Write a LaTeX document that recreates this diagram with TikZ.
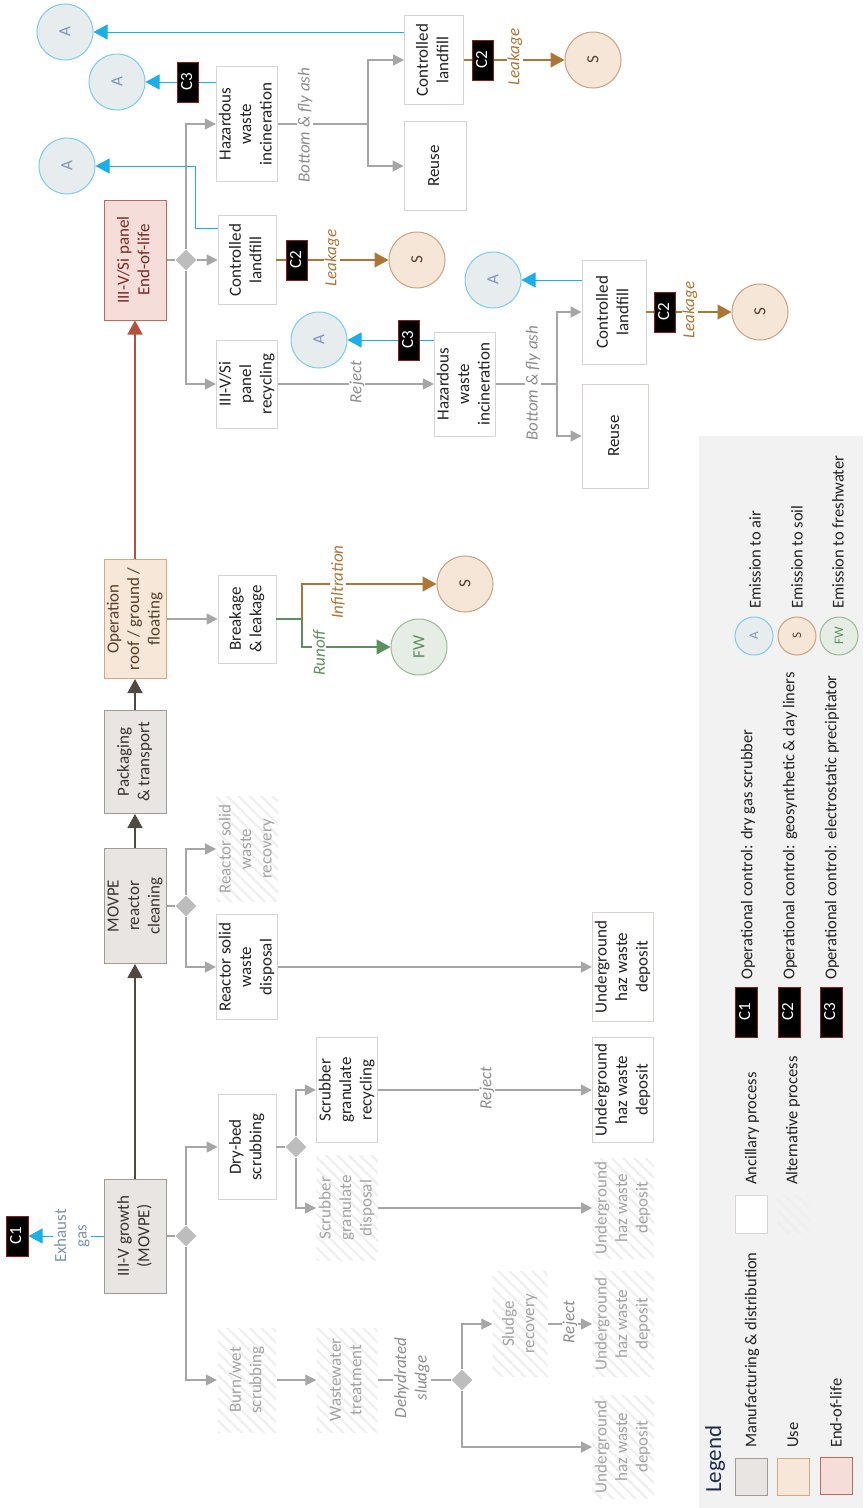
\documentclass[tikz,border=0pt]{standalone}
\usepackage{graphicx}
\usepackage{fontspec}
\setmainfont{Carlito}
\usetikzlibrary{arrows.meta,shapes.geometric,patterns.meta}

\definecolor{flowgray}{HTML}{A6A6A6}
\definecolor{mfgfill}{HTML}{E9E5E2}
\definecolor{mfgline}{HTML}{A29A94}
\definecolor{mfgtext}{HTML}{3A3330}
\definecolor{usefill}{HTML}{F6E7D9}
\definecolor{useline}{HTML}{D6A97C}
\definecolor{usetext}{HTML}{5A3E28}
\definecolor{eolfill}{HTML}{F5DDD9}
\definecolor{eolline}{HTML}{C06A5E}
\definecolor{eoltext}{HTML}{7A2A20}
\definecolor{ancline}{HTML}{DAD4D0}
\definecolor{boxtext}{HTML}{222222}
\definecolor{alttext}{HTML}{A3A3A3}
\definecolor{hatch}{HTML}{EFEFEF}
\definecolor{diafill}{HTML}{BDBDBD}
\definecolor{darkarrow}{HTML}{4F4843}
\definecolor{redarrow}{HTML}{B5503F}
\definecolor{aircol}{HTML}{1AAEEA}
\definecolor{airfill}{HTML}{E7EDEF}
\definecolor{airline}{HTML}{79CCEE}
\definecolor{airtext}{HTML}{7E95BF}
\definecolor{soilcol}{HTML}{AE7634}
\definecolor{soilfill}{HTML}{F5E6D8}
\definecolor{soilline}{HTML}{C9A27F}
\definecolor{soiltext}{HTML}{5A4030}
\definecolor{fwcol}{HTML}{5E8F5E}
\definecolor{fwfill}{HTML}{E5EDE4}
\definecolor{fwline}{HTML}{9BB89A}
\definecolor{ctrlred}{HTML}{8B1C1C}
\definecolor{legbg}{HTML}{F2F2F2}
\definecolor{labgray}{HTML}{8C8C8C}
\definecolor{exhcol}{HTML}{8095A8}
\definecolor{legnavy}{HTML}{1F2D4D}

\newcommand{\vtext}[1]{\rotatebox{90}{\begin{tabular}{@{}c@{}}#1\end{tabular}}}
\newcommand{\boxfont}{\fontsize{17}{20.5}\selectfont}
\newcommand{\legfont}{\fontsize{16.5}{19}\selectfont}

\tikzset{
  stage/.style={draw, line width=1pt, minimum width=62pt, inner sep=0pt, font=\boxfont},
  mfg/.style={stage, draw=mfgline, fill=mfgfill, text=mfgtext},
  usestage/.style={stage, draw=useline, fill=usefill, text=usetext},
  eolstage/.style={stage, draw=eolline, fill=eolfill, text=eoltext},
  anc/.style={draw=ancline, fill=white, line width=0.8pt, minimum width=58pt, inner sep=0pt, font=\boxfont, text=boxtext},
  altproc/.style={pattern={Lines[angle=-45,distance=8pt,line width=2.2pt]}, pattern color=hatch, minimum width=58pt, inner sep=0pt, font=\boxfont, text=alttext},
  gate/.style={diamond, fill=diafill, minimum width=21pt, minimum height=21pt, inner sep=0pt},
  emis/.style={circle, line width=1pt, minimum size=56pt, inner sep=0pt, font=\boxfont},
  air/.style={emis, draw=airline, fill=airfill, text=airtext},
  soil/.style={emis, draw=soilline, fill=soilfill, text=soiltext},
  fresh/.style={emis, draw=fwline, fill=fwfill, text=fwcol},
  ctrl/.style={draw=ctrlred, fill=black, text=white, line width=1pt, minimum width=21pt, minimum height=40pt, inner sep=0pt, font=\boxfont},
  lab/.style={fill=white, inner sep=1pt, rotate=90, font=\boxfont\itshape, align=center},
  link/.style={draw=flowgray, line width=1.2pt},
  flow/.style={link, -{Triangle[length=11pt,width=11pt]}},
  main/.style={draw=darkarrow, line width=1.6pt, -{Triangle[length=14pt,width=15pt]}},
  airflow/.style={draw=aircol, line width=1pt, -{Triangle[length=14pt,width=15pt]}},
  soilflow/.style={draw=soilcol, line width=1.2pt, -{Triangle[length=14pt,width=15pt]}},
  fwflow/.style={draw=fwcol, line width=1.2pt, -{Triangle[length=14pt,width=15pt]}},
  legtext/.style={rotate=90, anchor=west, inner sep=0pt, font=\legfont, text=boxtext},
}

\begin{document}
\begin{tikzpicture}[x=1pt,y=-1pt]
  \useasboundingbox (0,0) rectangle (863,1508);
  \fill[legbg] (699,436) rectangle (863,1508);

  \node[mfg, minimum height=114pt] (grow) at (135,1236) {\vtext{III-V growth\\(MOVPE)}};
  \node[mfg, minimum height=115pt] (clean) at (135,906) {\vtext{MOVPE\\reactor\\cleaning}};
  \node[mfg, minimum height=103pt] (pack) at (135,762) {\vtext{Packaging\\\& transport}};
  \node[usestage, minimum height=119pt] (oper) at (135,619) {\vtext{Operation\\roof / ground /\\floating}};
  \node[eolstage, minimum height=120pt] (eol) at (135,260) {\vtext{III-V/Si panel\\End-of-life}};

  \node[gate] (dgrow) at (186,1236) {};
  \node[gate] (dclean) at (186,906) {};
  \node[gate] (deol) at (186,260) {};
  \node[gate] (ddry) at (296,1147) {};
  \node[gate] (dsludge) at (462,1380) {};

  \node[anc, minimum height=105pt] (dry) at (247,1147) {\vtext{Dry-bed\\scrubbing}};
  \node[altproc, minimum height=104pt] (burn) at (247,1380) {\vtext{Burn/wet\\scrubbing}};
  \node[anc, minimum height=105pt] (rsdisp) at (247,967) {\vtext{Reactor solid\\waste\\disposal}};
  \node[altproc, minimum height=105pt] (rsrec) at (247,849) {\vtext{Reactor solid\\waste\\recovery}};
  \node[anc, minimum height=88pt] (brk) at (247,619) {\vtext{Breakage\\\& leakage}};
  \node[anc, minimum height=88pt] (recyc) at (247,384) {\vtext{III-V/Si\\panel\\recycling}};
  \node[anc, minimum height=89pt] (cl1) at (247,260) {\vtext{Controlled\\landfill}};
  \node[anc, minimum height=115pt] (hwi1) at (247,124) {\vtext{Hazardous\\waste\\incineration}};

  \node[anc, minimum width=61pt, minimum height=105pt] (sgrec) at (347,1090) {\vtext{Scrubber\\granulate\\recycling}};
  \node[altproc, minimum width=61pt, minimum height=105pt] (sgdisp) at (347,1208) {\vtext{Scrubber\\granulate\\disposal}};
  \node[altproc, minimum width=61pt, minimum height=104pt] (wwt) at (347,1380) {\vtext{Wastewater\\treatment}};
  \node[altproc, minimum width=55pt, minimum height=105pt] (slrec) at (520,1324) {\vtext{Sludge\\recovery}};

  \node[anc, minimum width=57pt, minimum height=109pt] (ug1) at (623,967) {\vtext{Underground\\haz waste\\deposit}};
  \node[anc, minimum width=57pt, minimum height=105pt] (ug2) at (623,1090) {\vtext{Underground\\haz waste\\deposit}};
  \node[altproc, minimum width=57pt, minimum height=100pt] (ug3) at (623,1208) {\vtext{Underground\\haz waste\\deposit}};
  \node[altproc, minimum width=57pt, minimum height=105pt] (ug4) at (623,1324) {\vtext{Underground\\haz waste\\deposit}};
  \node[altproc, minimum width=57pt, minimum height=103pt] (ug5) at (623,1447) {\vtext{Underground\\haz waste\\deposit}};

  \node[anc, minimum width=55pt, minimum height=104pt] (hwi2) at (465,384) {\vtext{Hazardous\\waste\\incineration}};
  \node[anc, minimum width=64pt, minimum height=104pt] (cl3) at (614,312) {\vtext{Controlled\\landfill}};
  \node[anc, minimum width=66pt, minimum height=104pt] (reuse2) at (615,436) {\vtext{Reuse}};
  \node[anc, minimum width=59pt, minimum height=89pt] (cl2) at (434,60) {\vtext{Controlled\\landfill}};
  \node[anc, minimum width=62pt, minimum height=89pt] (reuse1) at (435,166) {\vtext{Reuse}};

  \node[air] (airA1) at (65,32) {\rotatebox{90}{A}};
  \node[air] (airA2) at (117,82) {\rotatebox{90}{A}};
  \node[air] (airA3) at (67,166) {\rotatebox{90}{A}};
  \node[air] (airA4) at (319,340) {\rotatebox{90}{A}};
  \node[air] (airA5) at (493,280) {\rotatebox{90}{A}};
  \node[soil] (soilS1) at (593,60) {\rotatebox{90}{S}};
  \node[soil] (soilS2) at (417,260) {\rotatebox{90}{S}};
  \node[soil] (soilS3) at (760,312) {\rotatebox{90}{S}};
  \node[soil] (soilS4) at (465,584) {\rotatebox{90}{S}};
  \node[fresh] (fw1) at (419,647) {\rotatebox{90}{FW}};
  \node[ctrl, minimum width=22pt] (c1) at (17,1236) {\vtext{C1}};

  \draw[main] (grow) -- (clean);
  \draw[main] (clean) -- (pack);
  \draw[main] (pack) -- (oper);
  \draw[main, draw=redarrow] (oper) -- (eol);

  \draw[link] (grow) -- (dgrow);
  \draw[flow] (dgrow) |- (dry);
  \draw[flow] (dgrow) |- (burn);
  \draw[link] (dry) -- (ddry);
  \draw[flow] (ddry) |- (sgrec);
  \draw[flow] (ddry) |- (sgdisp);
  \draw[flow] (sgrec) -- (ug2);
  \draw[flow] (sgdisp) -- (ug3);
  \draw[flow] (burn) -- (wwt);
  \draw[link] (wwt) -- (dsludge);
  \draw[flow] (dsludge) |- (slrec);
  \draw[flow] (dsludge) |- (ug5);
  \draw[flow] (slrec) -- (ug4);
  \draw[airflow] (grow) -- (c1);

  \draw[link] (clean) -- (dclean);
  \draw[flow] (dclean) |- (rsrec);
  \draw[flow] (dclean) |- (rsdisp);
  \draw[flow] (rsdisp) -- (ug1);

  \draw[flow] (oper) -- (brk);
  \coordinate (wet) at (302,619);
  \draw[draw=fwcol, line width=1.2pt] (brk) -- (wet);
  \draw[soilflow] (wet) |- (soilS4);
  \draw[fwflow] (wet) |- (fw1);

  \draw[link] (eol) -- (deol);
  \draw[flow] (deol) -- (cl1);
  \draw[flow] (deol) |- (hwi1);
  \draw[flow] (deol) |- (recyc);
  \coordinate (ash1) at (368,124);
  \draw[link] (hwi1) -- (ash1);
  \draw[flow] (ash1) |- (cl2);
  \draw[flow] (ash1) |- (reuse1);
  \draw[flow] (recyc) -- (hwi2);
  \coordinate (ash2) at (557,384);
  \draw[link] (hwi2) -- (ash2);
  \draw[flow] (ash2) |- (cl3);
  \draw[flow] (ash2) |- (reuse2);

  \draw[airflow] (cl2.west |- airA1) -- (airA1);
  \draw[airflow] (hwi1.west |- airA2) -- (airA2);
  \draw[airflow] ([yshift=32pt]cl1.west) -- ++(-22,0) |- (airA3);
  \draw[airflow] (hwi2.west |- airA4) -- (airA4);
  \draw[airflow] (cl3.west |- airA5) -- (airA5);
  \draw[soilflow] (cl2) -- (soilS1);
  \draw[soilflow] (cl1) -- (soilS2);
  \draw[soilflow] (cl3) -- (soilS3);

  \node[ctrl] (c3a) at (188,82) {\vtext{C3}};
  \node[ctrl] (c2a) at (483,60) {\vtext{C2}};
  \node[ctrl] (c2b) at (297,260) {\vtext{C2}};
  \node[ctrl] (c3b) at (409,340) {\vtext{C3}};
  \node[ctrl] (c2c) at (665,312) {\vtext{C2}};

  \node[lab, text=soilcol] (leak1) at (515,57) {Leakage};
  \node[lab, text=soilcol] (leak2) at (332,258) {Leakage};
  \node[lab, text=soilcol] (leak3) at (690,310) {Leakage};
  \node[lab, text=soilcol] (infil) at (338,582) {Infiltration};
  \node[lab, text=fwcol] (runoff) at (319,653) {Runoff};
  \node[lab, text=labgray] (ashlab1) at (305,125) {Bottom \& fly ash};
  \node[lab, text=labgray] (ashlab2) at (533,383) {Bottom \& fly ash};
  \node[lab, text=labgray] (rej1) at (357,382) {Reject};
  \node[lab, text=labgray] (rej2) at (487,1088) {Reject};
  \node[lab, text=labgray] (rej3) at (570,1322) {Reject};
  \node[lab, text=labgray] (sludge) at (412,1378) {Dehydrated\\sludge};
  \node[lab, font=\boxfont, text=exhcol] (exhaust) at (72,1236) {Exhaust\\gas};

  \node[rotate=90, anchor=west, inner sep=0pt, font=\fontsize{23}{26}\selectfont, text=legnavy] (legtitle) at (715,1493) {Legend};
  \node[mfg, minimum width=32pt, minimum height=37pt] (kmfg) at (751,1477) {};
  \node[usestage, minimum width=32pt, minimum height=37pt] (kuse) at (793,1477) {};
  \node[eolstage, minimum width=32pt, minimum height=37pt] (keol) at (836,1476) {};
  \node[anc, minimum width=32pt, minimum height=38pt] (kanc) at (751,1214) {};
  \node[altproc, minimum width=32pt, minimum height=38pt] (kalt) at (793,1214) {};
  \node[legtext] (tmfg) at (752,1448) {Manufacturing \& distribution};
  \node[legtext] (tuse) at (793,1448) {Use};
  \node[legtext] (teol) at (836,1448) {End-of-life};
  \node[legtext] (tanc) at (752,1185) {Ancillary process};
  \node[legtext] (talt) at (793,1185) {Alternative process};

  \node[ctrl, minimum width=22pt, minimum height=50pt] (kc1) at (746,1012) {\vtext{C1}};
  \node[ctrl, minimum width=22pt, minimum height=50pt] (kc2) at (789,1012) {\vtext{C2}};
  \node[ctrl, minimum width=22pt, minimum height=50pt] (kc3) at (831,1012) {\vtext{C3}};
  \node[legtext] (tc1) at (748,980) {Operational control: dry gas scrubber};
  \node[legtext] (tc2) at (790,980) {Operational control: geosynthetic \& day liners};
  \node[legtext] (tc3) at (832,980) {Operational control: electrostatic precipitator};

  \node[air, minimum size=38pt, font=\fontsize{13}{15}\selectfont] (kair) at (754,636) {\rotatebox{90}{A}};
  \node[soil, minimum size=38pt, font=\fontsize{13}{15}\selectfont] (ksoil) at (797,636) {\rotatebox{90}{S}};
  \node[fresh, minimum size=38pt, font=\fontsize{13}{15}\selectfont] (kfw) at (839,636) {\rotatebox{90}{FW}};
  \node[legtext] (tair) at (755,609) {Emission to air};
  \node[legtext] (tsoil) at (797,609) {Emission to soil};
  \node[legtext] (tfw) at (838,609) {Emission to freshwater};
\end{tikzpicture}
\end{document}
